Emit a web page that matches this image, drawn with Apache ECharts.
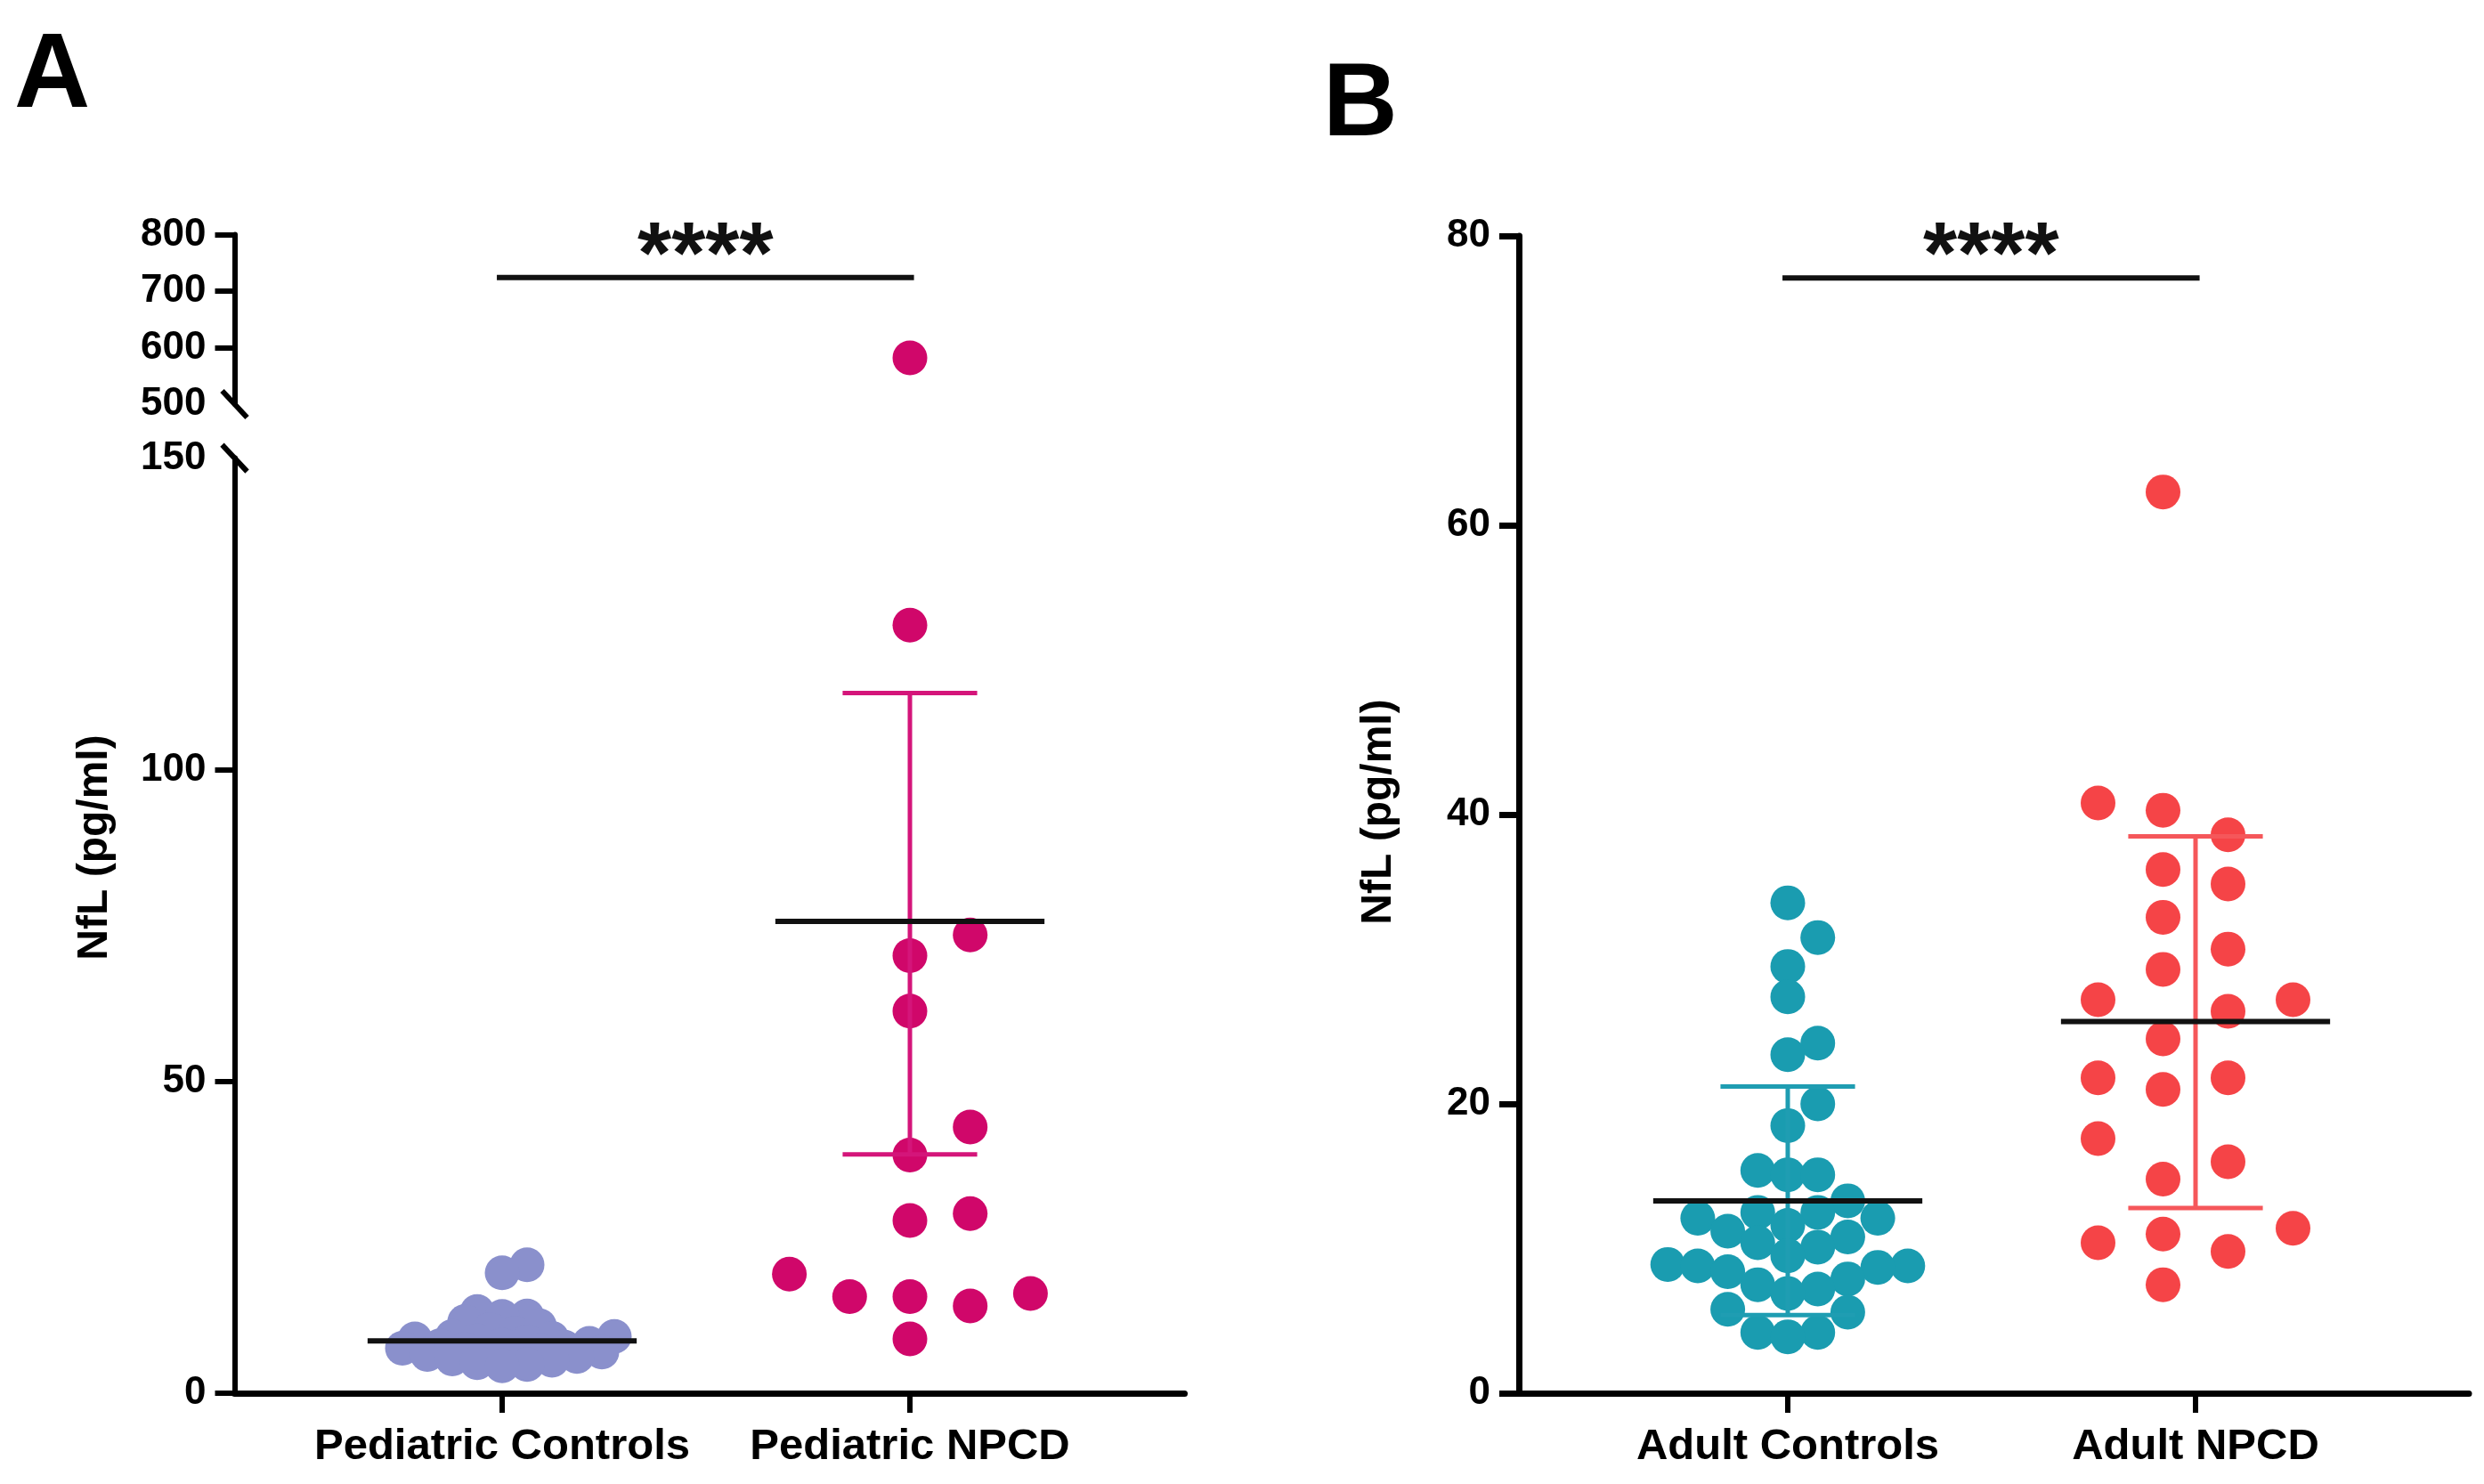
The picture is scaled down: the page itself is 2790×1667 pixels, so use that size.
<!DOCTYPE html>
<html>
<head>
<meta charset="utf-8">
<script src="https://cdn.jsdelivr.net/npm/echarts@6/dist/echarts.min.js"></script>
<style>
html, body { margin: 0; background: #fff; }
#chart { width: 2790px; height: 1667px; }
</style>
</head>
<body>
<div id="chart"></div>
<script>
// categories
var groupsA = ['Pediatric Controls', 'Pediatric NPCD'];
var groupsB = ['Adult Controls', 'Adult NPCD'];

// NfL values (pg/ml)
var pedControls = [20.6, 19.3, 13.1, 12.4, 12.3, 11.5, 10.8, 10.2, 9.6, 9.1, 9.1, 8.8, 8.7, 8.4, 8.2, 8.0,
    7.7, 7.6, 7.4, 7.2, 7.0, 6.8, 6.6, 6.3, 6.2, 6.0, 5.9, 5.5, 5.3, 4.9, 4.6, 4.4];
var pedNPCD = [582, 123.2, 73.5, 70.2, 61.3, 42.7, 38.2, 28.8, 27.7, 19.1, 16.0, 15.5, 15.5, 14.0, 8.7];
var adultControls = [33.9, 31.5, 29.5, 27.4, 24.2, 23.4, 20.0, 18.5, 15.4, 15.1, 15.1, 13.3, 12.5, 12.5,
    12.1, 12.1, 11.6, 11.2, 10.8, 10.4, 10.1, 9.5, 8.9, 8.8, 8.8, 8.7, 8.4, 7.9, 7.5, 7.2, 6.9, 5.8, 5.6,
    4.2, 4.2, 3.9];
var adultNPCD = [62.3, 40.8, 40.3, 38.6, 36.2, 35.2, 32.9, 30.7, 29.3, 27.2, 27.2, 26.4, 24.5, 21.8, 21.8,
    21.0, 17.6, 16.0, 14.8, 11.4, 11.0, 10.4, 9.8, 7.5];

// mean and error bars
var meanA = [8.4, 75.7];
var lowA = [7.8, 38.3];
var highA = [9.0, 112.3];
var meanB = [13.3, 25.7];
var lowB = [5.4, 12.8];
var highB = [21.2, 38.5];

// significance bars
var sigA = 724;
var sigB = 77.1;
var sigText = '****';

// tick labels
var ticksALow = [0, 50, 100, 150];
var ticksAHigh = [500, 600, 700, 800];
var ticksB = [0, 20, 40, 60, 80];

var FONT = 'Liberation Sans, Arial, sans-serif';
var colA = ['#8a90cc', '#d0076a'];
var colB = ['#1a9cb0', '#f54447'];
var errColA = ['#8a90cc', '#d4157a'];
var errColB = ['#1f9db2', '#f5575a'];

// layout (px)
var AX = 263.5, BX = 1706, GW = 1067;
var UNIT = 458;             // px between the two groups
var A_UP = { top: 263.5, height: 190.5 };
var A_LO = { top: 514.6, height: 1050.4 };
var B_G = { top: 265, height: 1300 };
var xMinA = 1 - (564 - AX) / UNIT, xMaxA = xMinA + GW / UNIT;
var xMinB = 1 - (2008 - BX) / UNIT, xMaxB = xMinB + GW / UNIT;

// simple beeswarm: horizontal offsets (px) so symbols do not pile up
function swarm(values, pxPerUnit, opt) {
    var order = values.map(function (v, i) { return i; })
        .sort(function (a, b) { return values[a] - values[b]; });
    var sign = opt.negFirst ? -1 : 1;
    var placed = [], offs = [];
    order.forEach(function (i) {
        var y = values[i] * pxPerUnit;
        for (var k = 0; k < 200; k++) {
            var c;
            if (opt.half) {
                c = (k % 2 ? -sign : sign) * (Math.floor(k / 2) + 0.5) * opt.step;
            } else {
                c = k === 0 ? 0 : (k % 2 ? sign : -sign) * Math.ceil(k / 2) * opt.step;
            }
            var ok = placed.every(function (p) {
                var dx = p[0] - c, dy = p[1] - y;
                return dx * dx + dy * dy >= opt.dmin * opt.dmin;
            });
            if (ok) { offs[i] = c; placed.push([c, y]); break; }
        }
    });
    return offs;
}

function points(values, group, pxPerUnit, opt) {
    var offs = swarm(values, pxPerUnit, opt);
    return values.map(function (v, i) { return [group + offs[i] / UNIT, v]; });
}

var pxA = A_LO.height / 150, pxB = B_G.height / 80;
var npcdLow = pedNPCD.filter(function (v) { return v <= 150; });
var npcdHigh = pedNPCD.filter(function (v) { return v > 150; });

function summaryRender(colors) {
    return function (params, api) {
        var g = api.value(0), m = api.value(1), lo = api.value(2), hi = api.value(3);
        var c = colors[params.dataIndex];
        var top = api.coord([g, hi]), bot = api.coord([g, lo]);
        var capL = api.coord([g - 0.165, hi]), capR = api.coord([g + 0.165, hi]);
        var capL2 = api.coord([g - 0.165, lo]), capR2 = api.coord([g + 0.165, lo]);
        var mL = api.coord([g - 0.33, m]), mR = api.coord([g + 0.33, m]);
        var es = { stroke: c, lineWidth: 5 };
        return {
            type: 'group',
            children: [
                { type: 'line', shape: { x1: top[0], y1: top[1], x2: bot[0], y2: bot[1] }, style: es },
                { type: 'line', shape: { x1: capL[0], y1: capL[1], x2: capR[0], y2: capR[1] }, style: es },
                { type: 'line', shape: { x1: capL2[0], y1: capL2[1], x2: capR2[0], y2: capR2[1] }, style: es },
                { type: 'line', shape: { x1: mL[0], y1: mL[1], x2: mR[0], y2: mR[1] },
                    style: { stroke: '#111', lineWidth: 6 } }
            ]
        };
    };
}

function sigRender(params, api) {
    var y = api.value(0);
    var p1 = api.coord([0.987, y]), p2 = api.coord([2.01, y]);
    return {
        type: 'group',
        children: [
            { type: 'line', shape: { x1: p1[0], y1: p1[1], x2: p2[0], y2: p2[1] },
                style: { stroke: '#111', lineWidth: 6 } },
            { type: 'text', style: { text: sigText, x: (p1[0] + p2[0]) / 2, y: p1[1] - 21,
                align: 'center', verticalAlign: 'middle', fill: '#111',
                font: 'bold 98px ' + FONT } }
        ]
    };
}

function yAxis(grid, min, max, interval, tickVals, w) {
    return {
        type: 'value', gridIndex: grid, min: min, max: max, interval: interval,
        splitLine: { show: false },
        axisLine: { show: true, lineStyle: { color: '#000', width: w } },
        axisTick: { show: true, length: 22, customValues: tickVals, lineStyle: { color: '#000', width: w } },
        axisLabel: { color: '#000', fontSize: 44, fontWeight: 'bold', fontFamily: FONT, margin: 32 }
    };
}

function xAxis(grid, min, max, names, show) {
    return {
        type: 'value', gridIndex: grid, min: min, max: max, show: show,
        splitLine: { show: false },
        axisLine: { show: true, onZero: false, lineStyle: { color: '#000', width: 7 } },
        axisTick: { show: true, length: 22, customValues: [1, 2], lineStyle: { color: '#000', width: 6 } },
        axisLabel: {
            customValues: [1, 2], color: '#000', fontSize: 49, fontWeight: 'bold', fontFamily: FONT, margin: 36,
            formatter: function (v) { return names[Math.round(v) - 1]; }
        }
    };
}

function dots(xi, yi, data, color) {
    return {
        type: 'scatter', xAxisIndex: xi, yAxisIndex: yi, data: data, symbol: 'circle', symbolSize: 39,
        itemStyle: { color: color, opacity: 1 }, z: 2, silent: true
    };
}

var myChart = echarts.init(document.getElementById('chart'), null, { renderer: 'canvas' });

var option = {
    animation: false,
    backgroundColor: '#fff',
    grid: [
        { left: AX, top: A_LO.top, width: GW, height: A_LO.height },
        { left: AX, top: A_UP.top, width: GW, height: A_UP.height },
        { left: BX, top: B_G.top, width: GW, height: B_G.height }
    ],
    xAxis: [
        xAxis(0, xMinA, xMaxA, groupsA, true),
        xAxis(1, xMinA, xMaxA, groupsA, false),
        xAxis(2, xMinB, xMaxB, groupsB, true)
    ],
    yAxis: [
        yAxis(0, 0, 150, 50, [0, 50, 100], 6),
        yAxis(1, 500, 800, 100, [600, 700, 800], 6),
        yAxis(2, 0, 80, 20, [0, 20, 40, 60, 80], 7)
    ],
    graphic: [
        { type: 'text', left: 16, top: 28, style: { text: 'A', font: 'bold 118px ' + FONT, fill: '#000' } },
        { type: 'text', left: 1486, top: 62, style: { text: 'B', font: 'bold 116px ' + FONT, fill: '#000' } },
        { type: 'text', x: 107, y: 952, rotation: Math.PI / 2,
            style: { text: 'NfL (pg/ml)', font: 'bold 48px ' + FONT, fill: '#000', align: 'center', verticalAlign: 'middle' } },
        { type: 'text', x: 1549, y: 912, rotation: Math.PI / 2,
            style: { text: 'NfL (pg/ml)', font: 'bold 48px ' + FONT, fill: '#000', align: 'center', verticalAlign: 'middle' } },
        // axis break marks
        { type: 'line', shape: { x1: AX - 14, y1: 454 - 15, x2: AX + 14, y2: 454 + 15 },
            style: { stroke: '#000', lineWidth: 6 } },
        { type: 'line', shape: { x1: AX - 14, y1: 514.6 - 15, x2: AX + 14, y2: 514.6 + 15 },
            style: { stroke: '#000', lineWidth: 6 } }
    ],
    series: [
        dots(0, 0, points(pedControls, 1, pxA, { step: 14, dmin: 17 }), colA[0]),
        dots(0, 0, points(npcdLow, 2, pxA, { step: 67.7, dmin: 38 }), colA[1]),
        dots(1, 1, npcdHigh.map(function (v) { return [2, v]; }), colA[1]),
        {
            type: 'custom', xAxisIndex: 0, yAxisIndex: 0, z: 3, silent: true,
            renderItem: summaryRender(errColA),
            data: groupsA.map(function (g, i) { return [i + 1, meanA[i], lowA[i], highA[i]]; })
        },
        {
            type: 'custom', xAxisIndex: 1, yAxisIndex: 1, z: 3, silent: true,
            renderItem: sigRender, data: [[sigA]]
        },
        dots(2, 2, points(adultControls, 1, pxB, { step: 33.7, dmin: 33 }), colB[0]),
        dots(2, 2, points(adultNPCD, 2, pxB, { step: 73, dmin: 48, half: true, negFirst: true }), colB[1]),
        {
            type: 'custom', xAxisIndex: 2, yAxisIndex: 2, z: 3, silent: true,
            renderItem: summaryRender(errColB),
            data: groupsB.map(function (g, i) { return [i + 1, meanB[i], lowB[i], highB[i]]; })
        },
        {
            type: 'custom', xAxisIndex: 2, yAxisIndex: 2, z: 3, silent: true,
            renderItem: sigRender, data: [[sigB]]
        }
    ]
};

myChart.setOption(option);
</script>
</body>
</html>
